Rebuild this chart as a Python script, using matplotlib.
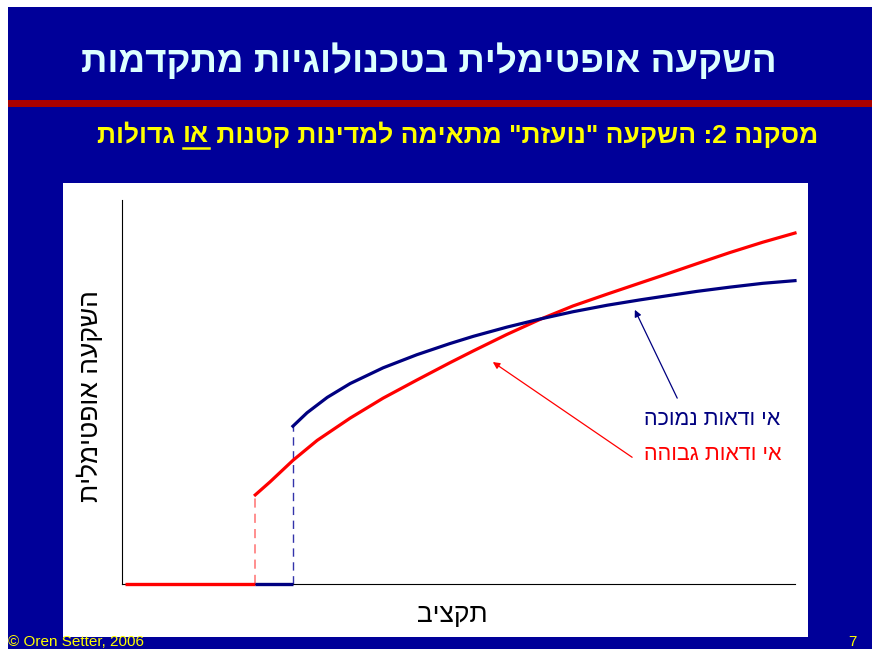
import matplotlib
matplotlib.use("Agg")
import matplotlib.pyplot as plt
from matplotlib.patches import Rectangle
from matplotlib.lines import Line2D

plt.rcParams['font.family'] = ['Liberation Sans', 'DejaVu Sans']

W, H = 872, 649

# matplotlib has no bidi support: Hebrew strings are reversed for display
def heb(s):
    return s[::-1]

# pixel -> figure fraction
def fx(px):
    return px / W

def fy(py):
    return 1 - py / H

# texts
title = "השקעה אופטימלית בטכנולוגיות מתקדמות"
sub_right = "מסקנה 2: השקעה \"נועזת\" מתאימה למדינות קטנות "
sub_mid = "או"
sub_left = " גדולות"
ylab = "השקעה אופטימלית"
xlab = "תקציב"
lab_low = "אי ודאות נמוכה"
lab_high = "אי ודאות גבוהה"
footer = "© Oren Setter, 2006"
page = "7"

# curves (budget vs optimal investment)
red_x = [19.8, 22.0, 25.4, 29.0, 33.9, 38.8, 43.8, 48.7, 52.2, 57.2,
         62.1, 67.0, 72.1, 77.0, 80.4, 85.4, 90.3, 95.2, 100]
red_y = [23.2, 26.6, 32.2, 37.4, 43.2, 48.4, 53.1, 57.6, 60.7, 65.0,
         68.9, 72.4, 75.5, 78.4, 80.4, 83.4, 86.3, 89.0, 91.4]
blue_x = [25.4, 27.5, 30.5, 33.9, 38.8, 43.8, 48.7, 52.2, 57.2, 62.1,
          67.0, 72.1, 77.0, 80.4, 85.4, 90.3, 95.2, 100]
blue_y = [41.1, 44.6, 48.6, 52.2, 56.3, 59.7, 62.6, 64.5, 66.9, 69.0,
          70.9, 72.6, 74.0, 74.9, 76.2, 77.3, 78.3, 79.0]
x_start = 0.4
red_jump = 19.8
blue_jump = 25.4

# arrows (tail -> head)
blue_tail, blue_head = (82.5, 48.4), (76.2, 71.4)
red_tail, red_head = (75.8, 33.0), (55.1, 57.8)

slide_blue = '#000099'
line_blue = '#000080'

fig = plt.figure(figsize=(W / 100, H / 100), dpi=100)
fig.patch.set_facecolor('white')

# slide background, red rule and white chart box (behind the axes)
fig.patches.append(Rectangle((fx(8), 0), 1 - fx(8), fy(7), transform=fig.transFigure,
                             facecolor=slide_blue, edgecolor='none', zorder=-3))
fig.patches.append(Rectangle((fx(8), fy(107)), 1 - fx(8), fy(100) - fy(107), transform=fig.transFigure,
                             facecolor='#AA0000', edgecolor='none', zorder=-2))
fig.patches.append(Rectangle((fx(63), fy(637)), fx(808) - fx(63), fy(183) - fy(637), transform=fig.transFigure,
                             facecolor='white', edgecolor='none', zorder=-2))

fig.text(fx(429), fy(62), heb(title), color='#DDFFFF', fontsize=26.5, fontweight='bold',
         ha='center', va='center')

# subtitle, drawn in three pieces so that "או" can be underlined
renderer = fig.canvas.get_renderer()
pieces = [heb(sub_left), heb(sub_mid), heb(sub_right)]
texts = []
for p in pieces:
    t = fig.text(0, fy(135), p, color='#FFFF00', fontsize=19, fontweight='bold',
                 ha='left', va='center')
    texts.append(t)
widths = [t.get_window_extent(renderer).width for t in texts]
x = 818 - sum(widths)
for t, w in zip(texts, widths):
    t.set_x(fx(x))
    x += w
bb = texts[1].get_window_extent(renderer)
fig.lines.append(Line2D([bb.x0 / W, bb.x1 / W], [fy(148), fy(148)], transform=fig.transFigure,
                        color='#FFFF00', lw=1.8))

# chart
ax = fig.add_axes([fx(122), fy(584), fx(795) - fx(122), fy(200) - fy(584)])
ax.set_facecolor('none')
ax.set_xlim(0, 100)
ax.set_ylim(0, 100)
for s in ['top', 'right']:
    ax.spines[s].set_visible(False)
ax.spines['left'].set_linewidth(0.8)
ax.spines['bottom'].set_linewidth(0.8)
ax.set_xticks([])
ax.set_yticks([])

ax.plot([x_start, red_jump], [0, 0], color='red', lw=2.4, solid_capstyle='butt', clip_on=False, zorder=3)
ax.plot([red_jump, blue_jump], [0, 0], color=line_blue, lw=2.4, solid_capstyle='butt', clip_on=False, zorder=3)
ax.plot([red_jump, red_jump], [0, red_y[0]], color='#FF7070', lw=1.1, dashes=(6, 4))
ax.plot([blue_jump, blue_jump], [0, blue_y[0]], color='#3333AA', lw=1.0, dashes=(6, 4))
ax.plot(red_x, red_y, color='red', lw=2.3, clip_on=False, zorder=3)
ax.plot(blue_x, blue_y, color=line_blue, lw=2.3, clip_on=False, zorder=3)

ax.annotate('', xy=blue_head, xytext=blue_tail,
            arrowprops=dict(arrowstyle='-|>', color=line_blue, lw=0.9, mutation_scale=10, shrinkA=0, shrinkB=0))
ax.annotate('', xy=red_head, xytext=red_tail,
            arrowprops=dict(arrowstyle='-|>', color='red', lw=0.9, mutation_scale=10, shrinkA=0, shrinkB=0))

ax.text(97.8, 42.8, heb(lab_low), color=line_blue, fontsize=15.5, ha='right', va='center')
ax.text(98.0, 33.6, heb(lab_high), color='red', fontsize=15.5, ha='right', va='center')

fig.text(fx(90), fy(396), heb(ylab), fontsize=19, rotation=90, ha='center', va='center')
fig.text(fx(452), fy(615), heb(xlab), fontsize=19, ha='center', va='center')

fig.text(fx(8), fy(642), footer, color='#FFFF00', fontsize=11, ha='left', va='center')
fig.text(fx(852), fy(642), page, color='#FFFF00', fontsize=11, ha='center', va='center')

fig.savefig('out.png', dpi=100)
